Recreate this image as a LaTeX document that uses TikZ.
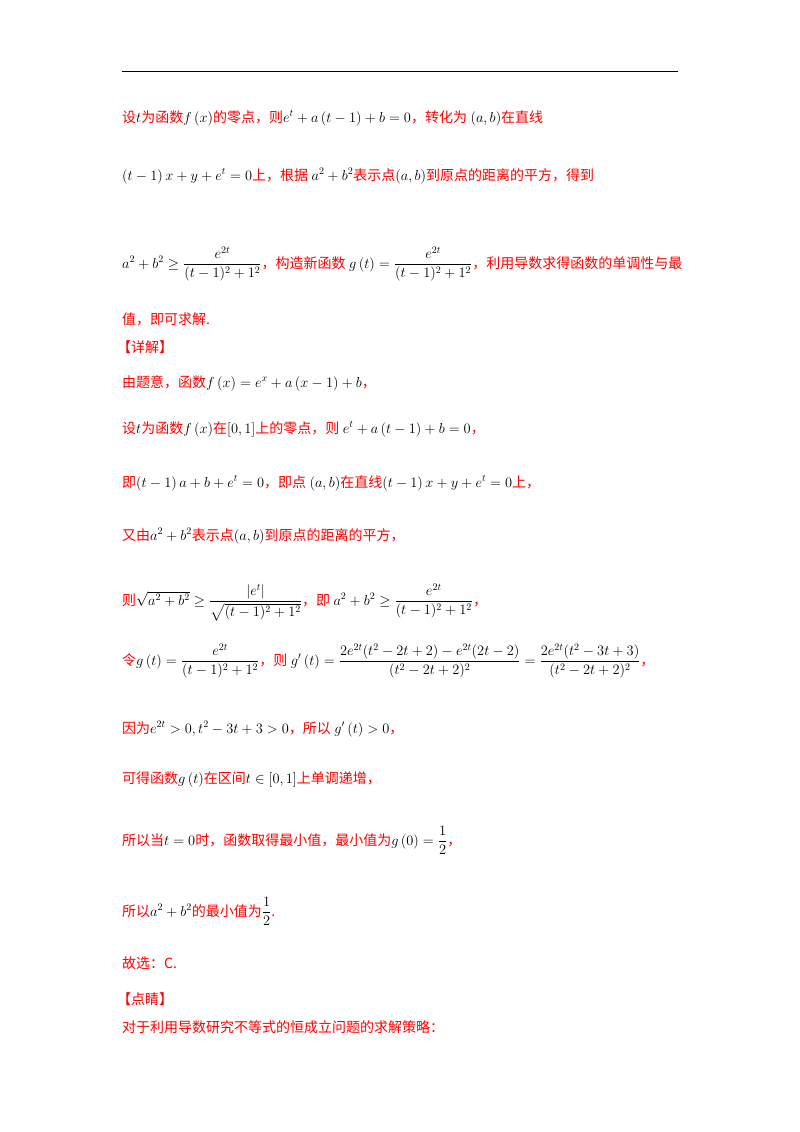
\documentclass[tikz,border=0pt]{standalone}
\usepackage{amsmath}
\usepackage{fontspec}
\setmainfont{Liberation Serif}
\newfontfamily\cjk{Noto Sans CJK SC}
\begin{document}
\begin{tikzpicture}[x=1pt,y=-1pt,
  ln/.style={anchor=base west,inner sep=0pt,font=\fontsize{14}{16}\selectfont}]
\useasboundingbox (0,0) rectangle (800,1132);
\newcommand\zh[1]{{\cjk\color[RGB]{255,0,0}#1}}
\draw[line width=1pt] (122,72) -- (678,72);
\node[ln] (l1) at (122,122) {\zh{设}$t$\zh{为函数}$f\left(x\right)$\zh{的零点，则}$e^t+a\left(t-1\right)+b=0$\zh{，转化为}~$\left(a,b\right)$\zh{在直线}};
\node[ln] (l2) at (122,180) {$\left(t-1\right)x+y+e^t=0$\zh{上，根据}~$a^2+b^2$\zh{表示点}$\left(a,b\right)$\zh{到原点的距离的平方，得到}};
\node[ln] (l3) at (122,268) {$a^2+b^2\ge\dfrac{e^{2t}}{(t-1)^2+1^2}$\zh{，构造新函数}~$g\left(t\right)=\dfrac{e^{2t}}{(t-1)^2+1^2}$\zh{，利用导数求得函数的单调性与最}};
\node[ln] (l4) at (122,324) {\zh{值，即可求解.}};
\node[ln] (l5) at (117,352) {\zh{【详解】}};
\node[ln] (l6) at (122,387) {\zh{由题意，函数}$f\left(x\right)=e^x+a\left(x-1\right)+b$\zh{，}};
\node[ln] (l7) at (122,433) {\zh{设}$t$\zh{为函数}$f\left(x\right)$\zh{在}$\left[0,1\right]$\zh{上的零点，则}~$e^t+a\left(t-1\right)+b=0$\zh{，}};
\node[ln] (l8) at (122,487) {\zh{即}$\left(t-1\right)a+b+e^t=0$\zh{，即点}~$\left(a,b\right)$\zh{在直线}$\left(t-1\right)x+y+e^t=0$\zh{上，}};
\node[ln] (l9) at (122,540) {\zh{又由}$a^2+b^2$\zh{表示点}$\left(a,b\right)$\zh{到原点的距离的平方，}};
\node[ln] (l10) at (122,605) {\zh{则}$\sqrt{a^2+b^2}\ge\dfrac{\left|e^t\right|}{\sqrt{(t-1)^2+1^2}}$\zh{，即}~$a^2+b^2\ge\dfrac{e^{2t}}{(t-1)^2+1^2}$\zh{，}};
\node[ln] (l11) at (122,665) {\zh{令}$g\left(t\right)=\dfrac{e^{2t}}{(t-1)^2+1^2}$\zh{，则}~$g'\left(t\right)=\dfrac{2e^{2t}(t^2-2t+2)-e^{2t}(2t-2)}{(t^2-2t+2)^2}=\dfrac{2e^{2t}(t^2-3t+3)}{(t^2-2t+2)^2}$\zh{，}};
\node[ln] (l12) at (122,733) {\zh{因为}$e^{2t}>0,t^2-3t+3>0$\zh{，所以}~$g'\left(t\right)>0$\zh{，}};
\node[ln] (l13) at (122,783) {\zh{可得函数}$g\left(t\right)$\zh{在区间}$t\in\left[0,1\right]$\zh{上单调递增，}};
\node[ln] (l14) at (122,845) {\zh{所以当}$t=0$\zh{时，函数取得最小值，最小值为}$g\left(0\right)=\dfrac{1}{2}$\zh{，}};
\node[ln] (l15) at (122,916) {\zh{所以}$a^2+b^2$\zh{的最小值为}$\dfrac{1}{2}$\zh{.}};
\node[ln] (l16) at (122,968) {\zh{故选：C.}};
\node[ln] (l17) at (117,1004) {\zh{【点睛】}};
\node[ln] (l18) at (122,1032) {\zh{对于利用导数研究不等式的恒成立问题的求解策略：}};
\end{tikzpicture}
\end{document}
